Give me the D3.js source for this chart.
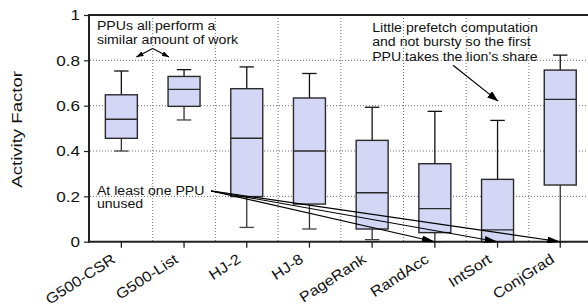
<!DOCTYPE html>
<html>
<head>
<meta charset="utf-8">
<script src="https://cdn.jsdelivr.net/npm/d3@7"></script>
<style>
  body { margin: 0; background: #fff; }
  text { font-family: "Liberation Sans", Arial, Helvetica, sans-serif; fill: #111; }
</style>
</head>
<body>
<div id="chart"></div>
<script>
// benchmarks and box stats: [min, q1, median, q3, max]
var categories = ["G500-CSR", "G500-List", "HJ-2", "HJ-8", "PageRank", "RandAcc", "IntSort", "ConjGrad"];
var lows    = [0.40,  0.537, 0.063, 0.056, 0.009, 0.0,   0.0,   0.0];
var q1s     = [0.456, 0.597, 0.199, 0.166, 0.056, 0.04,  0.0,   0.25];
var medians = [0.540, 0.672, 0.456, 0.400, 0.216, 0.146, 0.052, 0.628];
var q3s     = [0.648, 0.729, 0.675, 0.634, 0.447, 0.344, 0.275, 0.757];
var highs   = [0.753, 0.759, 0.771, 0.742, 0.593, 0.575, 0.535, 0.823];
var yTicks  = [0, 0.2, 0.4, 0.6, 0.8, 1];

var W = 588, H = 308;
var margin = { top: 15, left: 90 };
var plotW = 501.6, plotH = 226.7;

var svg = d3.select("#chart").append("svg")
    .attr("width", W).attr("height", H);

var x = d3.scaleBand().domain(categories).range([margin.left, margin.left + plotW]);
var y = d3.scaleLinear().domain([0, 1]).range([margin.top + plotH, margin.top]);
var bw = x.bandwidth();
// category index -> centre, used to place the notes
var xi = d3.scaleLinear().domain([0, 7])
    .range([x(categories[0]) + bw / 2, x(categories[7]) + bw / 2]);

// stretch text a bit, the source font runs wider than Liberation Sans
function stretch(sel, k) {
    sel.each(function () {
        var L = this.getComputedTextLength();
        d3.select(this).attr("textLength", L * k).attr("lengthAdjust", "spacingAndGlyphs");
    });
}

// grid
var grid = svg.append("g").attr("stroke", "#6f6f6f").attr("stroke-width", 1)
    .attr("stroke-dasharray", "1,2");
grid.selectAll(".hg").data(yTicks.filter(function (t) { return t > 0 && t < 1; }))
    .enter().append("line")
    .attr("x1", margin.left).attr("x2", margin.left + plotW)
    .attr("y1", function (d) { return y(d); }).attr("y2", function (d) { return y(d); });
grid.selectAll(".vg").data(categories.slice(1))
    .enter().append("line")
    .attr("x1", function (d) { return x(d); }).attr("x2", function (d) { return x(d); })
    .attr("y1", margin.top).attr("y2", margin.top + plotH);

// boxes
var data = categories.map(function (c, i) {
    return { c: c, lo: lows[i], q1: q1s[i], med: medians[i], q3: q3s[i], hi: highs[i] };
});
var boxW = bw * 0.51, capW = bw * 0.23;
var g = svg.append("g");
var b = g.selectAll("g.box").data(data).enter().append("g").attr("class", "box")
    .attr("transform", function (d) { return "translate(" + (x(d.c) + bw / 2) + ",0)"; });
b.append("line").attr("x1", 0).attr("x2", 0)
    .attr("y1", function (d) { return y(d.hi); }).attr("y2", function (d) { return y(d.q3); })
    .attr("stroke", "#111").attr("stroke-width", 1.3);
b.append("line").attr("x1", 0).attr("x2", 0)
    .attr("y1", function (d) { return y(d.lo); }).attr("y2", function (d) { return y(d.q1); })
    .attr("stroke", "#333").attr("stroke-width", 1.3);
b.append("line").attr("x1", -capW / 2).attr("x2", capW / 2)
    .attr("y1", function (d) { return y(d.hi); }).attr("y2", function (d) { return y(d.hi); })
    .attr("stroke", "#111").attr("stroke-width", 1.3);
b.append("line").attr("x1", -capW / 2).attr("x2", capW / 2)
    .attr("y1", function (d) { return y(d.lo); }).attr("y2", function (d) { return y(d.lo); })
    .attr("stroke", "#444").attr("stroke-width", 1.3);
b.append("rect")
    .attr("x", -boxW / 2).attr("width", boxW)
    .attr("y", function (d) { return y(d.q3); })
    .attr("height", function (d) { return y(d.q1) - y(d.q3); })
    .attr("fill", "#d3d7f5").attr("stroke", "#2a2a2a").attr("stroke-width", 1.4);
b.append("line").attr("x1", -boxW / 2).attr("x2", boxW / 2)
    .attr("y1", function (d) { return y(d.med); }).attr("y2", function (d) { return y(d.med); })
    .attr("stroke", "#2a2a2a").attr("stroke-width", 1.4);

// frame and axes
svg.append("line").attr("x1", margin.left).attr("x2", W)
    .attr("y1", margin.top).attr("y2", margin.top)
    .attr("stroke", "#222").attr("stroke-width", 2);
svg.append("line").attr("x1", margin.left - 1).attr("x2", margin.left - 1)
    .attr("y1", margin.top - 1).attr("y2", margin.top + plotH + 1)
    .attr("stroke", "#222").attr("stroke-width", 2);
svg.append("line").attr("x1", margin.left - 2).attr("x2", W)
    .attr("y1", margin.top + plotH).attr("y2", margin.top + plotH)
    .attr("stroke", "#222").attr("stroke-width", 2);

var yAx = svg.append("g").attr("transform", "translate(" + (margin.left - 1) + ",0)")
    .call(d3.axisLeft(y).tickValues(yTicks).tickFormat(d3.format("~g")).tickSize(5).tickPadding(4));
yAx.select(".domain").remove();
yAx.selectAll(".tick line").attr("stroke", "#222").attr("stroke-width", 1.2);
yAx.selectAll("text").attr("font-size", 15).attr("fill", "#111").call(stretch, 1.14);

var xAx = svg.append("g").attr("transform", "translate(0," + (margin.top + plotH) + ")")
    .call(d3.axisBottom(x).tickSize(6).tickFormat(""));
xAx.select(".domain").remove();
xAx.selectAll(".tick line").attr("stroke", "#222").attr("stroke-width", 1.3);

svg.append("g").selectAll("text").data(categories).enter().append("text")
    .attr("transform", function (d) {
        return "translate(" + (x(d) + bw / 2 - 5) + "," + (margin.top + plotH + 20) + ") rotate(-33)";
    })
    .attr("text-anchor", "end").attr("font-size", 14.5)
    .text(function (d) { return d; })
    .call(stretch, 1.12);

svg.append("text")
    .attr("transform", "translate(22," + (margin.top + plotH / 2 + 1) + ") rotate(-90)")
    .attr("text-anchor", "middle").attr("font-size", 15.5)
    .text("Activity Factor")
    .call(stretch, 1.2);

// arrow heads
var defs = svg.append("defs");
function marker(id, len, half) {
    defs.append("marker").attr("id", id)
        .attr("viewBox", "0 " + (-half) + " " + len + " " + (2 * half))
        .attr("refX", len).attr("refY", 0)
        .attr("markerUnits", "userSpaceOnUse")
        .attr("markerWidth", len).attr("markerHeight", 2 * half)
        .attr("orient", "auto")
        .append("path").attr("d", "M0," + (-half) + "L" + len + ",0L0," + half + "Z")
        .attr("fill", "#000");
}
marker("aSmall", 7, 2.6);
marker("aMid", 11, 4);
marker("aBig", 13, 3.4);

var notes = svg.append("g");
function note(lines, xi0, yv, gap) {
    lines.forEach(function (t, k) {
        notes.append("text")
            .attr("x", xi(xi0)).attr("y", y(yv) + k * gap)
            .attr("font-size", 12.5).text(t).call(stretch, 1.13);
    });
}
function arrow(x0, y0, x1, y1, m, w) {
    notes.append("line")
        .attr("x1", xi(x0)).attr("y1", y(y0)).attr("x2", xi(x1)).attr("y2", y(y1))
        .attr("stroke", "#000").attr("stroke-width", w).attr("marker-end", "url(#" + m + ")");
}

note(["PPUs all perform a", "similar amount of work"], -0.39, 0.934, 14.5);
arrow(0.5, 0.852, 0.24, 0.815, "aSmall", 1.1);
arrow(0.5, 0.852, 0.76, 0.815, "aSmall", 1.1);

note(["Little prefetch computation", "and not bursty so the first", "PPU takes the lion\u2019s share"], 4.0, 0.927, 14.6);
arrow(5.29, 0.778, 6.01, 0.62, "aMid", 1.2);

note(["At least one PPU", "unused"], -0.39, 0.206, 13.5);
[5, 6, 7].forEach(function (i) {
    arrow(1.43, 0.224, i, 0, "aBig", 1.1);
});
</script>
</body>
</html>
